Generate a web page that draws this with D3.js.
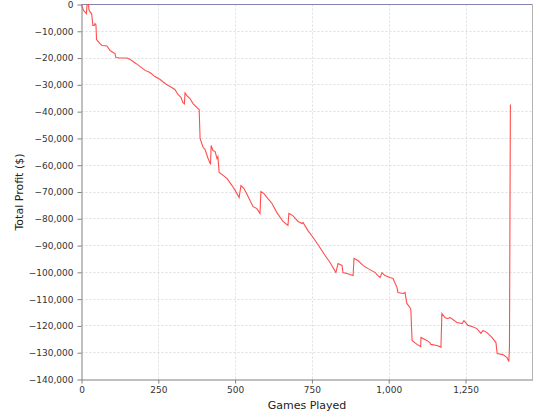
<!DOCTYPE html>
<html>
<head>
<meta charset="utf-8">
<script src="https://cdn.jsdelivr.net/npm/d3@7"></script>
<style>
  html, body { margin: 0; padding: 0; background: #ffffff; }
  svg { display: block; }
  .tick text { font-family: "DejaVu Sans", sans-serif; font-size: 9px; fill: #333333; }
  .axis-title { font-family: "DejaVu Sans", sans-serif; font-size: 11px; fill: #222222; }
</style>
</head>
<body>
<svg id="chart" width="540" height="420"></svg>
<script>
// ---- data ----
const games = [0, 6.5, 13, 16, 18, 23, 24, 29, 33, 37, 42, 44, 47, 49, 54, 60, 67, 83, 93, 103, 109, 112, 125, 148, 158, 168, 177, 190, 207, 223, 239, 256, 272, 288, 304, 314, 324, 330, 335, 337, 343, 353, 363, 376, 383, 386, 396, 402, 412, 420, 422, 428, 435, 441, 444, 448, 461, 474, 490, 500, 513, 519, 529, 539, 558, 571, 581, 584, 594, 604, 620, 636, 656, 672, 675, 688, 705, 718, 721, 737, 754, 776, 793, 809, 828, 835, 848, 851, 864, 884, 887, 900, 916, 933, 956, 965, 972, 978, 988, 1004, 1014, 1027, 1030, 1047, 1053, 1059, 1069, 1072, 1076, 1092, 1104, 1105, 1124, 1134, 1137, 1157, 1170, 1173, 1183, 1190, 1200, 1222, 1239, 1245, 1258, 1271, 1287, 1300, 1307, 1320, 1336, 1349, 1353, 1372, 1385, 1391, 1393, 1396];
const profit = [0, -2200, -3000, -3400, -200, 0, -1900, -3000, -3400, -7800, -7800, -7100, -7500, -13100, -13800, -14600, -15300, -15500, -17200, -17900, -18300, -19800, -20000, -20000, -20500, -21300, -22000, -23100, -24600, -25400, -26900, -28000, -29500, -30600, -31700, -33600, -34700, -36600, -37100, -33000, -34000, -35100, -37000, -38500, -39200, -50000, -53400, -54100, -57500, -59700, -52600, -54500, -54900, -57500, -56800, -62700, -63800, -65000, -67600, -69400, -72100, -67600, -68700, -70900, -75400, -76200, -78000, -69800, -70600, -72100, -74300, -77700, -81000, -82500, -78000, -78800, -81000, -81800, -81400, -84400, -87000, -90700, -93700, -96300, -100100, -96700, -97400, -100100, -100400, -101200, -94800, -95600, -97400, -98600, -100100, -101200, -101900, -100100, -101200, -101900, -102300, -105700, -107500, -107900, -107500, -111600, -113100, -113900, -125400, -126900, -127700, -124300, -125400, -126200, -126900, -127300, -127900, -115400, -116900, -117200, -116900, -118700, -119100, -118000, -119800, -120200, -121000, -122800, -121700, -122500, -124300, -126200, -130300, -130700, -131800, -133300, -128100, -37300];
const xTicks = [0, 250, 500, 750, 1000, 1250];
const yTicks = [0, -10000, -20000, -30000, -40000, -50000, -60000, -70000, -80000, -90000, -100000, -110000, -120000, -130000, -140000];
const xTitle = "Games Played";
const yTitle = "Total Profit ($)";

// ---- layout ----
const svg = d3.select("#chart");
const pLeft = 81.5, pRight = 532.5, pTop = 4.5, pBottom = 379.5;

const x = d3.scaleLinear().domain([0, 1468]).range([pLeft, pRight]);
const y = d3.scaleLinear().domain([-140000, 0]).range([pBottom, pTop]);

// plot background
svg.append("rect").attr("x", pLeft).attr("y", pTop)
  .attr("width", pRight - pLeft).attr("height", pBottom - pTop).attr("fill", "#ffffff");

// gridlines
svg.append("g").selectAll("line").data(xTicks.filter(d => d !== 0)).join("line")
  .attr("x1", d => Math.round(x(d)) + 0.5).attr("x2", d => Math.round(x(d)) + 0.5)
  .attr("y1", pTop).attr("y2", pBottom)
  .attr("stroke", "#dedede").attr("stroke-width", 1).attr("stroke-dasharray", "2,2");
svg.append("g").selectAll("line").data(yTicks.filter(d => d !== 0 && d !== -140000)).join("line")
  .attr("y1", d => Math.round(y(d) - 0.5) + 0.5).attr("y2", d => Math.round(y(d) - 0.5) + 0.5)
  .attr("x1", pLeft).attr("x2", pRight)
  .attr("stroke", "#dedede").attr("stroke-width", 1).attr("stroke-dasharray", "2,2");

// zero baseline along the top
svg.append("line").attr("x1", pLeft).attr("x2", pRight)
  .attr("y1", y(0)).attr("y2", y(0))
  .attr("stroke", "#8484b0").attr("stroke-width", 1);

// right border
svg.append("line").attr("x1", pRight).attr("x2", pRight)
  .attr("y1", pTop).attr("y2", pBottom)
  .attr("stroke", "#b4b4b4").attr("stroke-width", 1);

// data line
const line = d3.line().x((d, i) => x(games[i])).y((d, i) => y(profit[i]));
svg.append("path").datum(profit)
  .attr("d", line)
  .attr("fill", "none")
  .attr("stroke", "#ff4d4d")
  .attr("stroke-width", 1.1)
  .attr("stroke-linejoin", "miter");

// axes
const fmt = d3.format(",");
const xAxis = d3.axisBottom(x).tickValues(xTicks).tickFormat(fmt).tickSizeInner(4).tickSizeOuter(0).tickPadding(3);
const yAxis = d3.axisLeft(y).tickValues(yTicks).tickFormat(fmt).tickSizeInner(4).tickSizeOuter(0).tickPadding(4);

const gx = svg.append("g").attr("transform", `translate(0,${pBottom})`).call(xAxis);
const gy = svg.append("g").attr("transform", `translate(${pLeft},0)`).call(yAxis);
[gx, gy].forEach(g => {
  g.select(".domain").attr("stroke", "#808080");
  g.selectAll(".tick line").attr("stroke", "#808080");
});

// axis titles
svg.append("text").attr("class", "axis-title")
  .attr("x", (pLeft + pRight) / 2).attr("y", 409)
  .attr("text-anchor", "middle").text(xTitle);
svg.append("text").attr("class", "axis-title")
  .attr("transform", `translate(23,${(pTop + pBottom) / 2}) rotate(-90)`)
  .attr("text-anchor", "middle").text(yTitle);
</script>
</body>
</html>
